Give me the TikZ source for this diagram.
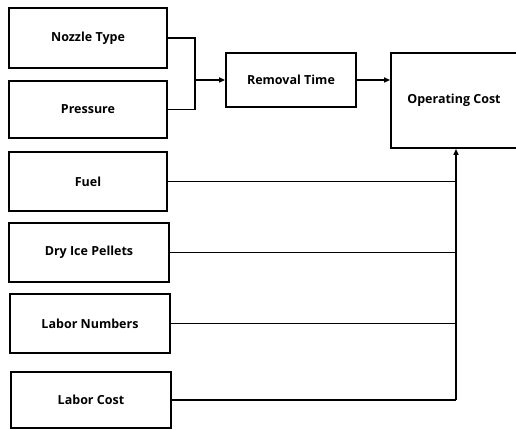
\documentclass[tikz,border=0pt]{standalone}
\usepackage{fontspec}
\setmainfont{Open Sans}
\usetikzlibrary{arrows.meta}
\begin{document}
\begin{tikzpicture}[x=1pt,y=-1pt,
  box/.style={draw,line width=1.8pt,rectangle,font=\bfseries\fontsize{12.5}{14}\selectfont},
  conn/.style={line width=1.5pt},
  arr/.style={conn,-{Triangle[length=6pt,width=5pt]}}]
\useasboundingbox (0,0) rectangle (516,430);
\node[box,minimum width=158pt,minimum height=60pt] (noz) at (88,38) {Nozzle Type};
\node[box,minimum width=158pt,minimum height=57pt] (pre) at (88,109.5) {Pressure};
\node[box,minimum width=158pt,minimum height=59pt] (fuel) at (88,181.5) {Fuel};
\node[box,minimum width=160pt,minimum height=59pt] (dry) at (89,252.5) {Dry Ice Pellets};
\node[box,minimum width=160pt,minimum height=59pt] (lab) at (90,323.5) {Labor Numbers};
\node[box,minimum width=160pt,minimum height=56pt] (lc) at (91,400) {Labor Cost};
\node[box,minimum width=130pt,minimum height=54pt] (rt) at (291,80) {Removal Time};
\node[box,minimum width=126pt,minimum height=95pt] (oc) at (454,100.5) {Operating Cost};
\coordinate (j) at (195,80);
\coordinate (v) at (456,400);
\draw[conn] (noz.east) -| (j);
\draw[conn] (pre.east) -| (j);
\draw[arr] (j) -- (rt.west);
\draw[arr] (rt.east) -- (rt.east -| oc.west);
\draw[conn] (lc.east) -- (v);
\draw[arr] (v) -- (v |- oc.south);
\draw[conn] (fuel.east) -- (fuel.east -| v);
\draw[conn] (dry.east) -- (dry.east -| v);
\draw[conn] (lab.east) -- (lab.east -| v);
\end{tikzpicture}
\end{document}
